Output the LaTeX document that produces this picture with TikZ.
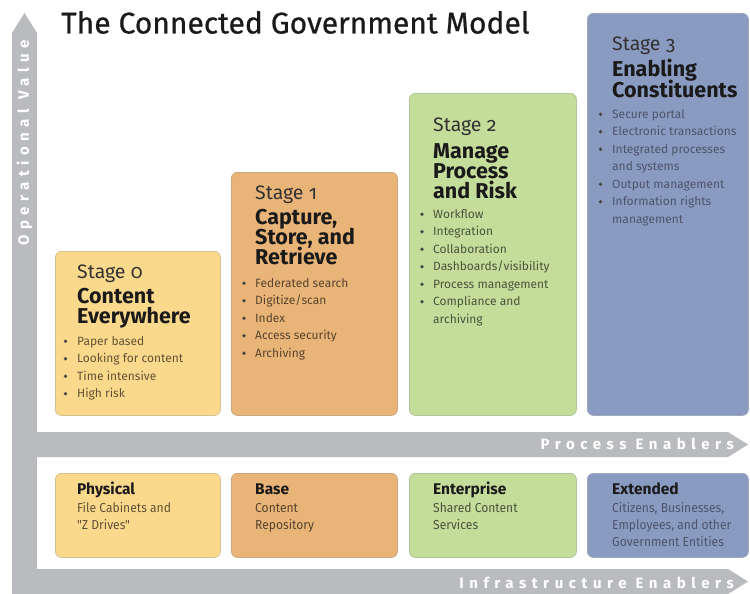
\documentclass[tikz,border=0pt]{standalone}
\usepackage{fontspec}
\setmainfont{Fira Sans}
\newfontfamily\titlefont{Fira Sans}[FakeBold=0.6]
\newfontfamily\stagefont{Fira Sans}[Numbers=OldStyle]
\newfontfamily\condfont{Fira Sans}[FakeStretch=0.93]
\newfontfamily\spacedfont{Fira Sans}[LetterSpace=37]
\definecolor{gbar}{RGB}{185,187,190}
\definecolor{cA}{RGB}{251,217,140}
\definecolor{cAb}{RGB}{214,192,142}
\definecolor{cB}{RGB}{233,180,120}
\definecolor{cBb}{RGB}{204,166,124}
\definecolor{cC}{RGB}{196,221,155}
\definecolor{cCb}{RGB}{176,198,152}
\definecolor{cD}{RGB}{138,155,194}
\definecolor{cDb}{RGB}{158,168,192}
\definecolor{ink}{RGB}{26,26,26}
\definecolor{inkstage}{RGB}{50,50,50}
\begin{document}
\begin{tikzpicture}[x=1pt,y=-1pt,
  box/.style={draw=#1b, fill=#1, line width=0.8pt, rounded corners=6pt, anchor=north west, inner sep=0pt},
  stagelbl/.style={anchor=base west, inner sep=0pt, text=inkstage, font=\stagefont\fontsize{19.5}{19.5}\selectfont},
  stagettl/.style={anchor=base west, inner sep=0pt, text=ink, font=\bfseries\fontsize{21.5}{21.5}\selectfont},
  bultxt/.style={anchor=base west, inner sep=0pt, text=black, text opacity=.62, font=\fontsize{12}{12}\selectfont},
  bothead/.style={anchor=base west, inner sep=0pt, text=ink, font=\bfseries\fontsize{15.5}{15.5}\selectfont},
  bottxt/.style={anchor=base west, inner sep=0pt, text=black, text opacity=.62, font=\condfont\fontsize{13}{13}\selectfont},
  axislbl/.style={inner sep=0pt, text=white, font=\spacedfont\bfseries\fontsize{15}{15}\selectfont},
  bdot/.style={fill=black!72}
]
\useasboundingbox (0,0) rectangle (750,594);
\fill[white] (0,0) rectangle (750,594);

% gray axes
\fill[gbar] (12,594) -- (12,33) -- (24.5,13) -- (37,33) -- (37,432) -- (728,432) -- (748,444.5)
  -- (728,457) -- (37,457) -- (37,569) -- (728,569) -- (748,581.5) -- (728,594) -- cycle;

\node[axislbl, rotate=90] (opval) at (24.5,143) {Operational Value};
\node[axislbl, anchor=base east] (proc) at (734,449.5) {Process Enablers};
\node[axislbl, anchor=base east] (infra) at (734,588) {Infrastructure Enablers};

% title
\node[anchor=base west, inner sep=0pt, text=ink, font=\titlefont\fontsize{30}{30}\selectfont] (title) at (61,33.5) {The Connected Government Model};

% stage boxes
\node[box=cA, minimum width=165pt, minimum height=164pt] (s0) at (55,251) {};
\node[box=cB, minimum width=166pt, minimum height=243pt] (s1) at (231,172) {};
\node[box=cC, minimum width=167pt, minimum height=322pt] (s2) at (409,93) {};
\node[box=cD, minimum width=161pt, minimum height=402pt] (s3) at (587,13) {};

% bottom boxes
\node[box=cA, minimum width=165pt, minimum height=84pt] (p0) at (55,473) {};
\node[box=cB, minimum width=166pt, minimum height=84pt] (p1) at (231,473) {};
\node[box=cC, minimum width=167pt, minimum height=84pt] (p2) at (409,473) {};
\node[box=cD, minimum width=161pt, minimum height=84pt] (p3) at (587,473) {};

% Stage 0
\node[stagelbl] (s0l) at (77,278) {Stage 0};
\node[stagettl] (s0t1) at (77,303) {Content};
\node[stagettl] (s0t2) at (77,323) {Everywhere};
\foreach \t/\b [count=\i from 0] in {Paper based/1, Looking for content/1, Time intensive/1, High risk/1}{
  \node[bultxt] (s0b\i) at (77,345+17.5*\i) {\t};
  \ifnum\b=1 \fill[bdot] (65.5,341.2+17.5*\i) circle (1.9); \fi
}

% Stage 1
\node[stagelbl] (s1l) at (255,199) {Stage 1};
\node[stagettl] (s1t1) at (255,224) {Capture,};
\node[stagettl] (s1t2) at (255,244) {Store, and};
\node[stagettl] (s1t3) at (255,264) {Retrieve};
\foreach \t/\b [count=\i from 0] in {Federated search/1, Digitize\slash scan/1, Index/1, Access security/1, Archiving/1}{
  \node[bultxt] (s1b\i) at (255,287+17.5*\i) {\t};
  \ifnum\b=1 \fill[bdot] (244,283.2+17.5*\i) circle (1.9); \fi
}

% Stage 2
\node[stagelbl] (s2l) at (433,131) {Stage 2};
\node[stagettl] (s2t1) at (433,158) {Manage};
\node[stagettl] (s2t2) at (433,178) {Process};
\node[stagettl] (s2t3) at (433,198) {and Risk};
\foreach \t/\b [count=\i from 0] in {Workflow/1, Integration/1, Collaboration/1, Dashboards\slash visibility/1, Process management/1, Compliance and/1, archiving/0}{
  \node[bultxt] (s2b\i) at (433,218+17.5*\i) {\t};
  \ifnum\b=1 \fill[bdot] (422,214.2+17.5*\i) circle (1.9); \fi
}

% Stage 3
\node[stagelbl] (s3l) at (612,51) {Stage 3};
\node[stagettl] (s3t1) at (612,77) {Enabling};
\node[stagettl] (s3t2) at (612,97) {Constituents};
\foreach \t/\b [count=\i from 0] in {Secure portal/1, Electronic transactions/1, Integrated processes/1, and systems/0, Output management/1, Information rights/1, management/0}{
  \node[bultxt, text opacity=.45] (s3b\i) at (612,118+17.5*\i) {\t};
  \ifnum\b=1 \fill[bdot] (600.5,114.2+17.5*\i) circle (1.9); \fi
}

% bottom texts
\node[bothead] (p0h) at (77,494) {Physical};
\node[bottxt] (p0a) at (77,512) {File Cabinets and};
\node[bottxt] (p0b) at (77,529) {"Z Drives"};
\node[bothead] (p1h) at (255,494) {Base};
\node[bottxt] (p1a) at (255,512) {Content};
\node[bottxt] (p1b) at (255,529) {Repository};
\node[bothead] (p2h) at (433,494) {Enterprise};
\node[bottxt] (p2a) at (433,512) {Shared Content};
\node[bottxt] (p2b) at (433,529) {Services};
\node[bothead] (p3h) at (612,494) {Extended};
\node[bottxt, text opacity=.45] (p3a) at (612,512) {Citizens, Businesses,};
\node[bottxt, text opacity=.45] (p3b) at (612,529) {Employees, and other};
\node[bottxt, text opacity=.45] (p3c) at (612,546) {Government Entities};
\end{tikzpicture}
\end{document}
